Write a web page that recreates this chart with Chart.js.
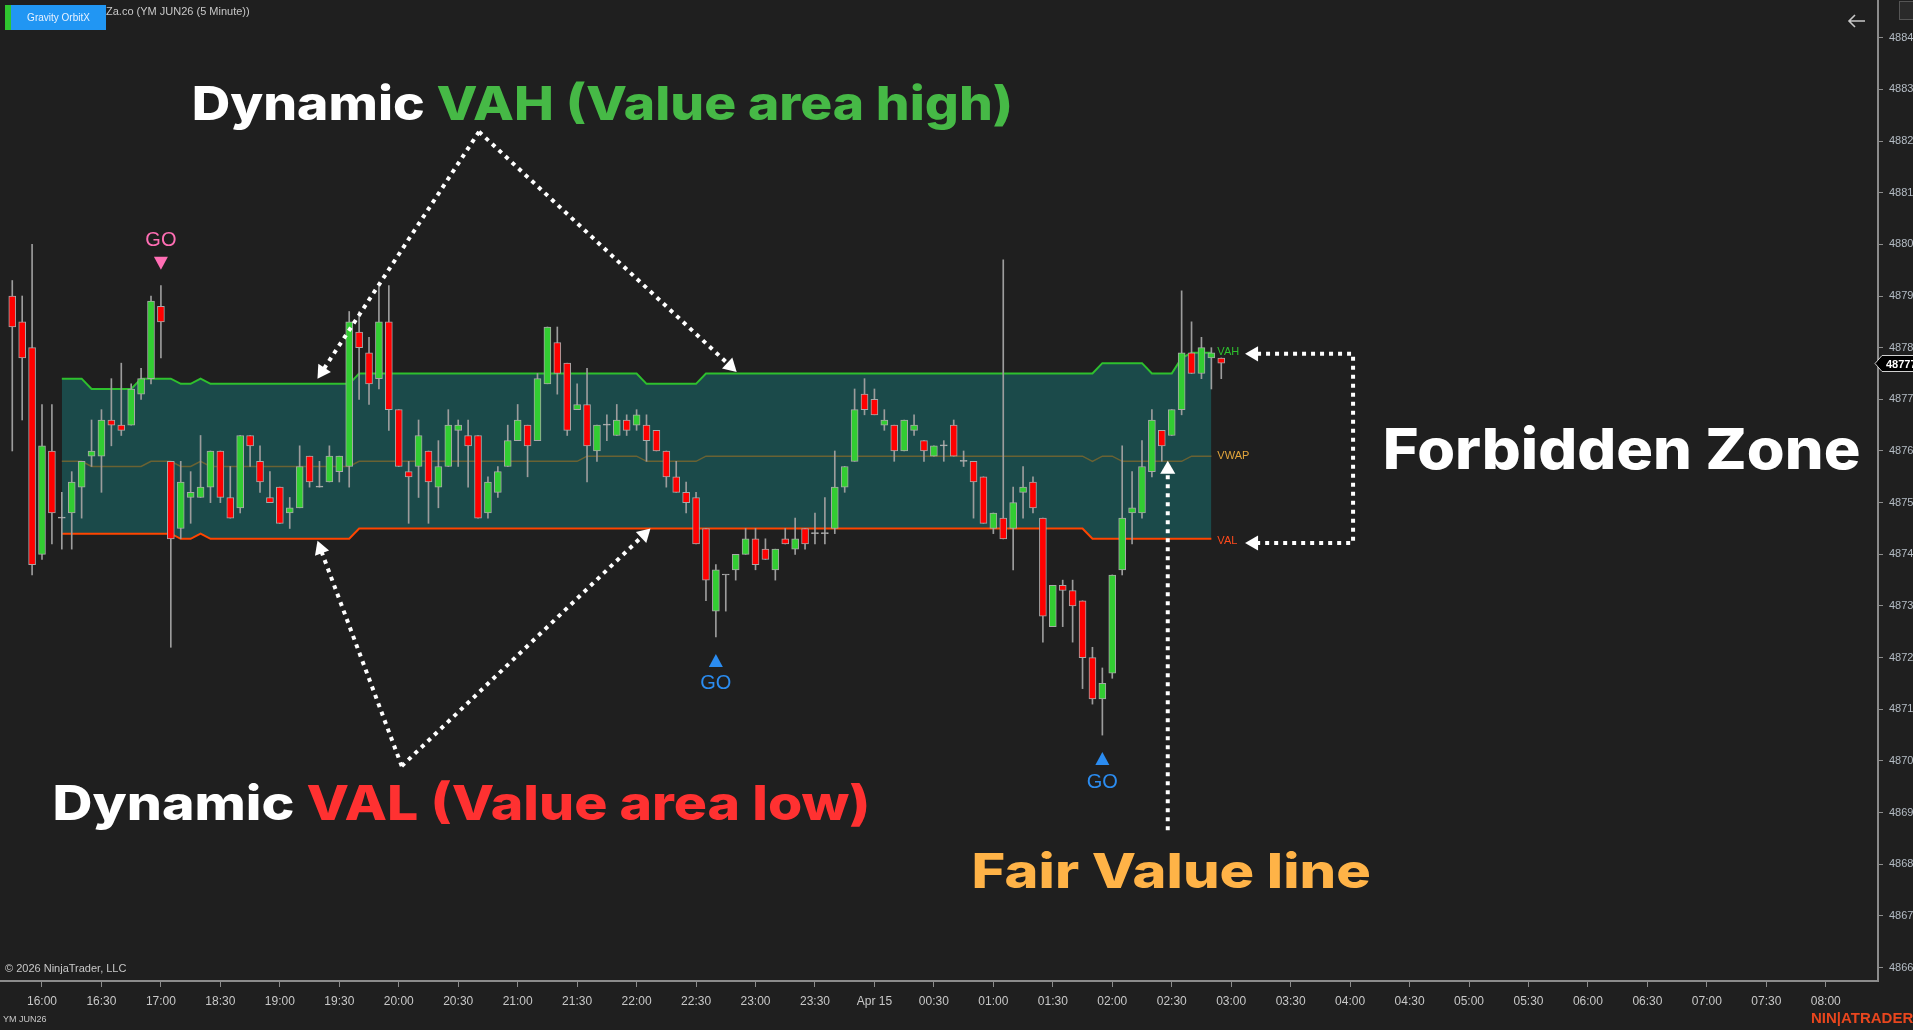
<!DOCTYPE html>
<html>
<head>
<meta charset="utf-8">
<script src="https://cdn.jsdelivr.net/npm/chart.js@4.4.1/dist/chart.umd.min.js"></script>
<style>
html, body { margin: 0; padding: 0; background: #1f1f1f; overflow: hidden; }
#wrap { width: 1913px; height: 1030px; position: relative; }
</style>
</head>
<body>
<div id="wrap"><canvas id="chart"></canvas></div>
<script>
// 5 minute YM JUN26 bars, first bar sits 3 bars before the 16:00 label
const firstBar = -3
const opens = [48790, 48785, 48780,
  48740, 48760, 48747, 48748, 48753, 48759, 48759, 48766, 48765, 48765,
  48771, 48774, 48788, 48758, 48745, 48751, 48751, 48753, 48760, 48751,
  48749, 48763, 48758, 48751, 48753, 48748, 48749, 48759, 48753, 48754,
  48756, 48757, 48783, 48779, 48774, 48785, 48768, 48756, 48757, 48760,
  48753, 48757, 48764, 48763, 48763, 48748, 48752, 48757, 48762, 48765,
  48762, 48773, 48781, 48777, 48768, 48769, 48760, 48765, 48763, 48766,
  48765, 48765, 48764, 48760, 48755, 48752, 48751, 48745, 48729, 48736,
  48737, 48740, 48743, 48741, 48737, 48743, 48741, 48745, 48744, 48744,
  48745, 48753, 48758, 48771, 48770, 48765, 48765, 48760, 48764, 48762,
  48759, 48761, 48765, 48758, 48758, 48755, 48745, 48747, 48745, 48752,
  48754, 48747, 48726, 48734, 48733, 48731, 48720, 48712, 48717, 48737,
  48748, 48748, 48756, 48764, 48763, 48768, 48779, 48775, 48778, 48778]
const highs = [48793, 48790, 48800,
  48769, 48769, 48752, 48756, 48758, 48766, 48768, 48774, 48777, 48773,
  48776, 48790, 48792, 48758, 48758, 48756, 48763, 48760, 48760, 48757,
  48763, 48763, 48761, 48756, 48753, 48751, 48761, 48759, 48758, 48761,
  48759, 48787, 48787, 48782, 48792, 48792, 48768, 48758, 48766, 48760,
  48762, 48768, 48766, 48766, 48763, 48755, 48757, 48765, 48769, 48765,
  48775, 48784, 48784, 48777, 48773, 48776, 48765, 48767, 48769, 48767,
  48768, 48767, 48764, 48760, 48758, 48754, 48752, 48745, 48738, 48736,
  48740, 48745, 48745, 48743, 48741, 48745, 48747, 48745, 48748, 48751,
  48760, 48757, 48772, 48774, 48772, 48768, 48765, 48766, 48767, 48762,
  48761, 48762, 48766, 48760, 48758, 48755, 48748, 48797, 48753, 48757,
  48755, 48747, 48734, 48735, 48735, 48731, 48722, 48718, 48736, 48761,
  48756, 48762, 48768, 48764, 48768, 48791, 48785, 48782, 48780, 48778]
const lows = [48760, 48766, 48736,
  48739, 48742, 48741, 48741, 48747, 48757, 48752, 48761, 48763, 48765,
  48770, 48773, 48778, 48722, 48743, 48746, 48751, 48750, 48750, 48747,
  48748, 48757, 48752, 48750, 48746, 48745, 48749, 48753, 48753, 48754,
  48754, 48753, 48770, 48769, 48772, 48764, 48757, 48746, 48751, 48746,
  48749, 48757, 48757, 48753, 48747, 48747, 48751, 48757, 48762, 48755,
  48762, 48773, 48771, 48763, 48768, 48754, 48758, 48762, 48763, 48763,
  48764, 48758, 48760, 48753, 48752, 48748, 48742, 48731, 48724, 48729,
  48735, 48740, 48737, 48739, 48735, 48742, 48740, 48741, 48742, 48742,
  48744, 48752, 48758, 48767, 48767, 48764, 48758, 48760, 48763, 48758,
  48759, 48758, 48759, 48757, 48747, 48746, 48744, 48743, 48737, 48747,
  48748, 48723, 48726, 48726, 48723, 48714, 48711, 48705, 48716, 48736,
  48742, 48747, 48755, 48758, 48763, 48767, 48775, 48774, 48772, 48774]
const closes = [48784, 48778, 48738,
  48761, 48748, 48747, 48754, 48758, 48760, 48766, 48765, 48764, 48772,
  48774, 48789, 48785, 48743, 48754, 48752, 48753, 48760, 48751, 48747,
  48763, 48761, 48754, 48750, 48746, 48749, 48757, 48754, 48753, 48759,
  48759, 48785, 48780, 48773, 48785, 48768, 48757, 48755, 48763, 48754,
  48757, 48765, 48765, 48761, 48747, 48754, 48756, 48762, 48766, 48761,
  48774, 48784, 48775, 48764, 48769, 48761, 48765, 48765, 48766, 48764,
  48767, 48762, 48760, 48755, 48752, 48750, 48742, 48735, 48737, 48736,
  48740, 48743, 48738, 48739, 48741, 48742, 48743, 48742, 48744, 48744,
  48753, 48757, 48768, 48768, 48767, 48766, 48760, 48766, 48765, 48760,
  48761, 48761, 48759, 48758, 48754, 48746, 48748, 48743, 48750, 48753,
  48749, 48728, 48734, 48733, 48730, 48720, 48712, 48715, 48736, 48747,
  48749, 48757, 48766, 48761, 48768, 48779, 48775, 48780, 48779, 48777]

// value area levels, one value per bar starting at bar 2
const levelStart = 2
const vah = [48774, 48774, 48774, 48772, 48772, 48772, 48772, 48772, 48774, 48774, 48774, 48774,
  48773, 48773, 48774,
  48773, 48773, 48773, 48773, 48773, 48773, 48773, 48773, 48773, 48773, 48773, 48773, 48773, 48773, 48773,
  48775, 48775, 48775, 48775, 48775, 48775, 48775, 48775, 48775, 48775, 48775, 48775, 48775, 48775, 48775,
  48775, 48775, 48775, 48775, 48775, 48775, 48775, 48775, 48775, 48775, 48775, 48775, 48775, 48775,
  48773, 48773, 48773, 48773, 48773, 48773,
  48775, 48775, 48775, 48775, 48775, 48775, 48775, 48775, 48775, 48775, 48775, 48775, 48775, 48775, 48775,
  48775, 48775, 48775, 48775, 48775, 48775, 48775, 48775, 48775, 48775, 48775, 48775, 48775, 48775, 48775,
  48775, 48775, 48775, 48775, 48775, 48775, 48775, 48775, 48775, 48775,
  48777, 48777, 48777, 48777, 48777, 48775, 48775, 48775, 48778, 48779, 48779, 48779]
const val = [48744, 48744, 48744, 48744, 48744, 48744, 48744, 48744, 48744, 48744, 48744, 48744,
  48743, 48743, 48744,
  48743, 48743, 48743, 48743, 48743, 48743, 48743, 48743, 48743, 48743, 48743, 48743, 48743, 48743, 48743,
  48745, 48745, 48745, 48745, 48745, 48745, 48745, 48745, 48745, 48745, 48745, 48745, 48745, 48745, 48745,
  48745, 48745, 48745, 48745, 48745, 48745, 48745, 48745, 48745, 48745, 48745, 48745, 48745, 48745, 48745,
  48745, 48745, 48745, 48745, 48745, 48745, 48745, 48745, 48745, 48745, 48745, 48745, 48745, 48745, 48745,
  48745, 48745, 48745, 48745, 48745, 48745, 48745, 48745, 48745, 48745, 48745, 48745, 48745, 48745, 48745,
  48745, 48745, 48745, 48745, 48745, 48745, 48745, 48745, 48745, 48745, 48745, 48745, 48745, 48745,
  48743, 48743, 48743, 48743, 48743, 48743, 48743, 48743, 48743, 48743, 48743, 48743, 48743]
const vwap = [48758, 48758, 48758, 48757, 48757, 48757, 48757, 48757, 48757, 48758, 48758, 48758,
  48757, 48757, 48758,
  48757, 48757, 48757, 48757, 48757, 48757, 48757, 48757, 48757, 48757, 48757, 48757, 48757, 48757, 48757,
  48758, 48758, 48758, 48758, 48758, 48758, 48758, 48758, 48758, 48758, 48758, 48758, 48758, 48758, 48758,
  48758, 48758, 48758, 48758, 48758, 48758, 48758, 48758,
  48759, 48759, 48759, 48759, 48759, 48759, 48758, 48758, 48758, 48758, 48758, 48758,
  48759, 48759, 48759, 48759, 48759, 48759, 48759, 48759, 48759, 48759, 48759, 48759, 48759, 48759, 48759,
  48759, 48759, 48759, 48759, 48759, 48759, 48759, 48759, 48759, 48759, 48759, 48759, 48759, 48759, 48759,
  48759, 48759, 48759, 48759, 48759, 48759, 48759, 48759, 48759,
  48758, 48759, 48759, 48758, 48758, 48758, 48758, 48758, 48758, 48758, 48759, 48759, 48759]

// x axis: one label every 6 bars (30 minutes), session break after 17:00
const timeLabels = ['16:00', '16:30', '17:00', '18:30', '19:00', '19:30', '20:00', '20:30', '21:00',
  '21:30', '22:00', '22:30', '23:00', '23:30', 'Apr 15', '00:30', '01:00', '01:30', '02:00', '02:30',
  '03:00', '03:30', '04:00', '04:30', '05:00', '05:30', '06:00', '06:30', '07:00', '07:30', '08:00']
const priceTicks = [48660, 48670, 48680, 48690, 48700, 48710, 48720, 48730, 48740, 48750,
  48760, 48770, 48780, 48790, 48800, 48810, 48820, 48830, 48840]

// signal bars
const goSignals = [{ bar: 12, dir: 'short' }, { bar: 68, dir: 'long' }, { bar: 107, dir: 'long' }]

const GREEN = '#32cd32'
const RED = '#ff0000'
const OUTLINE = '#a8a8a8'

const bodies = []
const wicks = []
const bodyColors = []
opens.forEach((o, i) => {
  const x = firstBar + i
  bodies.push({ x, y: [o, closes[i]] })
  wicks.push({ x, y: [lows[i], highs[i]] })
  bodyColors.push(closes[i] > o ? GREEN : closes[i] < o ? RED : '#b8b8b8')
})
const toLine = arr => arr.map((v, i) => ({ x: levelStart + i, y: v }))

// annotation layout, in bar index / price units
const arrows = [
  { from: [44.1, 48821.8], to: [27.8, 48774] },
  { from: [44.1, 48821.8], to: [70.1, 48775.3] },
  { from: [36.3, 48699], to: [27.8, 48742.6] },
  { from: [36.3, 48699], to: [61.4, 48745] },
]
const titles = [
  { parts: [['Dynamic ', '#ffffff'], ['VAH (Value area high)', '#46b946']], left: 15.1, right: 98.0, base: 48824.1, cap: 34 },
  { parts: [['Dynamic ', '#ffffff'], ['VAL (Value area low)', '#ff3131']], left: 1.06, right: 83.6, base: 48688.6, cap: 35 },
  { parts: [['Forbidden Zone', '#ffffff']], left: 135.3, right: 183.5, base: 48756.6, cap: 41 },
  { parts: [['Fair Value line', '#ffb347']], left: 93.8, right: 134.1, base: 48675.4, cap: 35 },
]

function dotted(ctx, pts) {
  ctx.save()
  ctx.strokeStyle = '#ffffff'
  ctx.lineWidth = 4
  ctx.setLineDash([4, 5])
  ctx.beginPath()
  pts.forEach((p, i) => i ? ctx.lineTo(p[0], p[1]) : ctx.moveTo(p[0], p[1]))
  ctx.stroke()
  ctx.restore()
}

function arrowHead(ctx, tip, from, size) {
  const a = Math.atan2(tip[1] - from[1], tip[0] - from[0])
  ctx.save()
  ctx.translate(tip[0], tip[1])
  ctx.rotate(a)
  ctx.beginPath()
  ctx.moveTo(0, 0)
  ctx.lineTo(-size, -size * 0.58)
  ctx.lineTo(-size, size * 0.58)
  ctx.closePath()
  ctx.fillStyle = '#ffffff'
  ctx.fill()
  ctx.restore()
}

function arrowLine(ctx, from, tip, size) {
  const dx = tip[0] - from[0], dy = tip[1] - from[1]
  const len = Math.hypot(dx, dy)
  const end = [tip[0] - dx / len * (size - 1), tip[1] - dy / len * (size - 1)]
  dotted(ctx, [from, end])
  arrowHead(ctx, tip, from, size)
}

const overlay = {
  id: 'overlay',
  afterDraw(chart) {
    const { ctx, scales: { x, y }, chartArea } = chart
    const px = v => x.getPixelForValue(v)
    const py = v => y.getPixelForValue(v)
    const P = p => [px(p[0]), py(p[1])]

    // level labels at the end of the band
    const endBar = levelStart + vah.length - 1
    ctx.save()
    ctx.font = '11px Arial, "Liberation Sans", sans-serif'
    ctx.textBaseline = 'middle'
    ctx.fillStyle = '#2ec02e'
    ctx.fillText('VAH', px(endBar) + 6, py(vah[vah.length - 1]) - 1)
    ctx.fillStyle = '#e2a53c'
    ctx.fillText('VWAP', px(endBar) + 6, py(vwap[vwap.length - 1]))
    ctx.fillStyle = '#ff4a1c'
    ctx.fillText('VAL', px(endBar) + 6, py(val[val.length - 1]) + 2)
    ctx.restore()

    // GO signals
    ctx.save()
    ctx.font = '20px Arial, "Liberation Sans", sans-serif'
    ctx.textAlign = 'center'
    ctx.textBaseline = 'middle'
    goSignals.forEach(s => {
      const i = s.bar - firstBar
      const cx = px(s.bar)
      ctx.beginPath()
      if (s.dir === 'short') {
        const hy = py(highs[i])
        ctx.fillStyle = '#ff6eb4'
        ctx.moveTo(cx - 7, hy - 29); ctx.lineTo(cx + 7, hy - 29); ctx.lineTo(cx, hy - 16)
        ctx.fill()
        ctx.fillText('GO', cx, hy - 45)
      } else {
        const ly = py(lows[i])
        ctx.fillStyle = '#2b8cf0'
        ctx.moveTo(cx - 7, ly + 30); ctx.lineTo(cx + 7, ly + 30); ctx.lineTo(cx, ly + 17)
        ctx.fill()
        ctx.fillText('GO', cx, ly + 47)
      }
    })
    ctx.restore()

    // dotted arrows
    arrows.forEach(a => arrowLine(ctx, P(a.from), P(a.to), 13))
    const topTip = P([121.4, 48778.8])
    const botTip = P([121.4, 48742.2])
    const corner = px(132.3)
    dotted(ctx, [[topTip[0] + 12, topTip[1]], [corner, topTip[1]], [corner, botTip[1]], [botTip[0] + 12, botTip[1]]])
    arrowHead(ctx, topTip, [corner, topTip[1]], 13)
    arrowHead(ctx, botTip, [corner, botTip[1]], 13)
    const fvTip = P([113.6, 48758.1])
    const fvBot = P([113.6, 48686.6])
    dotted(ctx, [fvBot, [fvTip[0], fvTip[1] + 12]])
    arrowHead(ctx, fvTip, fvBot, 13)

    // big titles, stretched to their measured extent
    titles.forEach(t => {
      const left = px(t.left), right = px(t.right), base = py(t.base)
      ctx.save()
      ctx.font = `800 ${t.cap / 0.727}px Inter, "Open Sans", sans-serif`
      const full = t.parts.map(p => p[0]).join('')
      const w = ctx.measureText(full).width
      ctx.translate(left, base)
      ctx.scale((right - left) / w, 1)
      let cx = 0
      t.parts.forEach(p => {
        ctx.fillStyle = p[1]
        ctx.fillText(p[0], cx, 0)
        cx += ctx.measureText(p[0]).width
      })
      ctx.restore()
    })

    // current price marker on the axis
    const last = closes[closes.length - 1]
    const ly = Math.round(py(last)) + 0.5
    const r = chartArea.right
    ctx.save()
    ctx.beginPath()
    ctx.moveTo(r - 3, ly)
    ctx.lineTo(r + 4, ly - 8)
    ctx.lineTo(1914, ly - 8)
    ctx.lineTo(1914, ly + 8)
    ctx.lineTo(r + 4, ly + 8)
    ctx.closePath()
    ctx.fillStyle = '#000000'
    ctx.fill()
    ctx.strokeStyle = '#d0d0d0'
    ctx.lineWidth = 1
    ctx.stroke()
    ctx.fillStyle = '#ffffff'
    ctx.font = 'bold 11px Arial, "Liberation Sans", sans-serif'
    ctx.textBaseline = 'middle'
    ctx.fillText(String(last), r + 8, ly + 1)
    ctx.restore()

    // header
    ctx.save()
    ctx.fillStyle = '#2fc52f'
    ctx.fillRect(5, 5, 7, 25)
    ctx.fillStyle = '#2196f3'
    ctx.fillRect(11, 5, 95, 25)
    ctx.fillStyle = '#e6f1ff'
    ctx.font = '10px Arial, "Liberation Sans", sans-serif'
    ctx.textBaseline = 'middle'
    ctx.textAlign = 'center'
    ctx.fillText('Gravity OrbitX', 58.5, 18)
    ctx.textAlign = 'left'
    ctx.fillStyle = '#c8c8c8'
    ctx.font = '11px Arial, "Liberation Sans", sans-serif'
    ctx.fillText('Za.co (YM JUN26 (5 Minute))', 106, 12)
    // back arrow and a clipped button at the top right
    ctx.strokeStyle = '#c8c8c8'
    ctx.lineWidth = 1.6
    ctx.beginPath()
    ctx.moveTo(1849, 21); ctx.lineTo(1865, 21)
    ctx.moveTo(1855, 15); ctx.lineTo(1849, 21); ctx.lineTo(1855, 27)
    ctx.stroke()
    ctx.fillStyle = '#2a2a2a'
    ctx.fillRect(1899, 1, 16, 19)
    ctx.strokeStyle = '#555555'
    ctx.lineWidth = 1
    ctx.strokeRect(1899.5, 1.5, 16, 18)
    // footer
    ctx.fillStyle = '#c8c8c8'
    ctx.font = '11px "Liberation Sans Narrow", "Arial Narrow", Arial, sans-serif'
    ctx.fillText('\u00a9 2026 NinjaTrader, LLC', 5, 969)
    ctx.font = '9px "Liberation Sans Narrow", "Arial Narrow", Arial, sans-serif'
    ctx.fillText('YM JUN26', 3, 1020)
    ctx.fillStyle = '#e8461e'
    ctx.font = 'bold 15px Arial, "Liberation Sans", sans-serif'
    ctx.fillText('NIN|ATRADER', 1811, 1019)
    ctx.restore()
  }
}

const background = {
  id: 'background',
  beforeDraw(chart) {
    const { ctx, width, height } = chart
    ctx.save()
    ctx.fillStyle = '#1f1f1f'
    ctx.fillRect(0, 0, width, height)
    ctx.restore()
  }
}

new Chart(document.getElementById('chart'), {
  type: 'bar',
  data: {
    datasets: [
      {
        label: 'bodies', data: bodies, order: 0,
        backgroundColor: bodyColors, borderColor: OUTLINE, borderWidth: 1,
        borderSkipped: false, barThickness: 7, minBarLength: 1, grouped: false
      },
      {
        label: 'wicks', data: wicks, order: 1,
        backgroundColor: '#9c9c9c', borderWidth: 0, barThickness: 1, grouped: false
      },
      {
        type: 'line', label: 'VAL', data: toLine(val), order: 2,
        borderColor: '#ff4500', borderWidth: 2, pointRadius: 0, tension: 0, fill: false
      },
      {
        type: 'line', label: 'VWAP', data: toLine(vwap), order: 2,
        borderColor: '#6a6233', borderWidth: 1.5, pointRadius: 0, tension: 0, fill: false
      },
      {
        type: 'line', label: 'VAH', data: toLine(vah), order: 3,
        borderColor: '#2ec02e', borderWidth: 2, pointRadius: 0, tension: 0,
        fill: { target: 2 }, backgroundColor: '#1b4a4a'
      }
    ]
  },
  options: {
    responsive: true,
    maintainAspectRatio: false,
    animation: false,
    devicePixelRatio: 1,
    events: [],
    layout: { padding: 0 },
    plugins: { legend: { display: false }, tooltip: { enabled: false } },
    scales: {
      x: {
        type: 'linear',
        min: -4.238,
        max: 185.27,
        offset: false,
        afterBuildTicks: axis => { axis.ticks = timeLabels.map((t, i) => ({ value: i * 6 })) },
        afterFit: axis => { axis.height = 49; axis.paddingLeft = 0; axis.paddingRight = 0 },
        grid: { display: true, drawOnChartArea: false, offset: false, tickLength: 6, color: '#8c8c8c' },
        border: { display: true, color: '#8c8c8c', width: 2 },
        ticks: {
          autoSkip: false, maxRotation: 0, padding: 7, color: '#c8c8c8',
          font: { family: '"Liberation Sans Narrow", "Arial Narrow", Arial, sans-serif', size: 12 },
          callback: v => timeLabels[v / 6]
        }
      },
      y: {
        type: 'linear',
        position: 'right',
        min: 48657.4,
        max: 48847.3,
        beginAtZero: false,
        afterBuildTicks: axis => { axis.ticks = priceTicks.map(v => ({ value: v })) },
        afterFit: axis => { axis.width = 35; axis.paddingTop = 0; axis.paddingBottom = 0 },
        grid: { display: true, drawOnChartArea: false, tickLength: 5, color: '#8c8c8c' },
        border: { display: true, color: '#8c8c8c', width: 2 },
        ticks: {
          autoSkip: false, padding: 6, color: '#b4bcc4',
          font: { family: 'Arial, "Liberation Sans", sans-serif', size: 11 },
          callback: v => String(v)
        }
      }
    }
  },
  plugins: [background, overlay]
})
</script>
</body>
</html>
